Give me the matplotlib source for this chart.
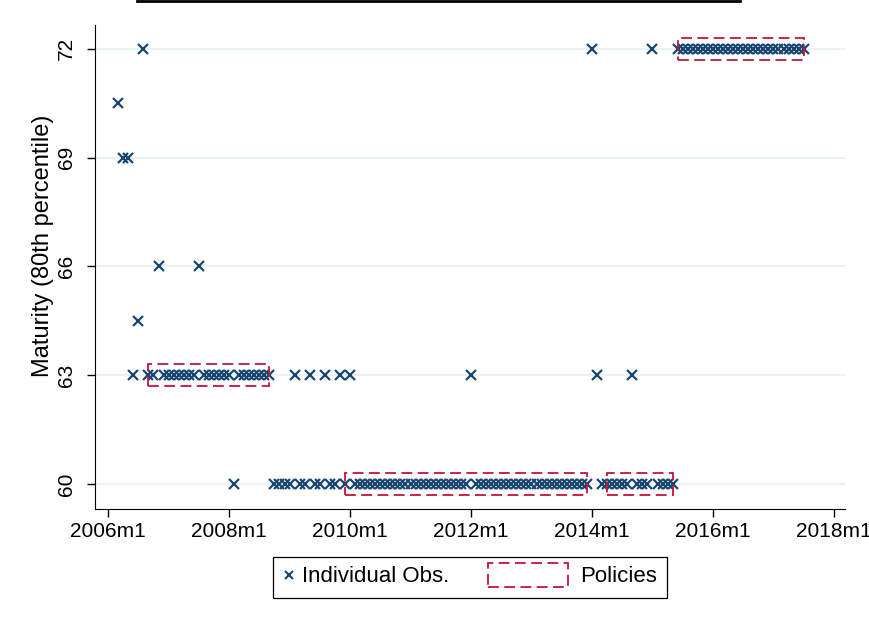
import matplotlib
matplotlib.use("Agg")
import matplotlib.pyplot as plt
from matplotlib.patches import Rectangle
from matplotlib.lines import Line2D

plt.rcParams['font.family'] = ['Liberation Sans', 'DejaVu Sans']

# monthly 80th percentile maturity, one list per year (m1..m12), None = no obs
m2006 = [None, None, 70.5, 69, 69, 63, 64.5, 72, 63, 63, 66, 63]
m2007 = [63, 63, 63, 63, 63, 63, 66, 63, 63, 63, 63, 63]
m2008 = [63, 60, 63, 63, 63, 63, 63, 63, 63, 60, 60, 60]
m2009 = [60, 63, 60, 60, 63, 60, 60, 63, 60, 60, 63, 60]
m2010 = [63, 60, 60, 60, 60, 60, 60, 60, 60, 60, 60, 60]
m2011 = [60, 60, 60, 60, 60, 60, 60, 60, 60, 60, 60, 60]
m2012 = [63, 60, 60, 60, 60, 60, 60, 60, 60, 60, 60, 60]
m2013 = [60, 60, 60, 60, 60, 60, 60, 60, 60, 60, 60, 60]
m2014 = [72, 63, 60, 60, 60, 60, 60, 60, 63, 60, 60, 60]
m2015 = [72, 60, 60, 60, 60, 72, 72, 72, 72, 72, 72, 72]
m2016 = [72, 72, 72, 72, 72, 72, 72, 72, 72, 72, 72, 72]
m2017 = [72, 72, 72, 72, 72, 72, 72, None, None, None, None, None]
years = [2006, 2007, 2008, 2009, 2010, 2011, 2012, 2013, 2014, 2015, 2016, 2017]
series = [m2006, m2007, m2008, m2009, m2010, m2011, m2012, m2013, m2014, m2015, m2016, m2017]

# policy periods (start, end as year, month) and maturity level
pol_start = [(2006, 9), (2009, 12), (2014, 4), (2015, 6)]
pol_end = [(2008, 9), (2013, 12), (2015, 5), (2017, 7)]
pol_level = [63, 60, 60, 72]

xtick_years = [2006, 2008, 2010, 2012, 2014, 2016, 2018]
yticks = [60, 63, 66, 69, 72]

navy = '#1a476f'
red = '#c8103a'


def mindex(y, m):
    return (y - 2006) * 12 + (m - 1)


xs, ys = [], []
for yr, vals in zip(years, series):
    for k, v in enumerate(vals):
        if v is not None:
            xs.append(mindex(yr, k + 1))
            ys.append(v)

fig = plt.figure(figsize=(8.7, 6.23), dpi=100)
ax = fig.add_axes([95 / 870, 1 - 509 / 623, 750 / 870, 484 / 623])

for y in yticks:
    ax.axhline(y, color='#eaf2f3', lw=1.5, zorder=0)

ax.plot(xs, ys, ls='none', marker='x', ms=6.5, mew=1.6, color=navy, zorder=3)

for s, e, lev in zip(pol_start, pol_end, pol_level):
    x0, x1 = mindex(*s), mindex(*e)
    ax.add_patch(Rectangle((x0, lev - 0.3), x1 - x0, 0.6, fill=False,
                           edgecolor=red, lw=1.3, linestyle=(0, (6, 3)), zorder=4))

ax.set_xlim(-2.6, 146.2)
ax.set_ylim(59.31, 72.66)
ax.set_xticks([mindex(y, 1) for y in xtick_years])
ax.set_xticklabels([f'{y}m1' for y in xtick_years])
ax.set_yticks(yticks)
ax.set_yticklabels([str(y) for y in yticks], rotation=90, va='center')
ax.tick_params(labelsize=15, length=6, width=1, direction='out')
ax.tick_params(axis='y', pad=8)
ax.spines['top'].set_visible(False)
ax.spines['right'].set_visible(False)
ax.set_ylabel('Maturity (80th percentile)', fontsize=17)
ax.yaxis.set_label_coords(-0.054, 0.543)


class WideBoxHandler:
    def legend_artist(self, legend, orig_handle, fontsize, handlebox):
        handlebox.width = 84 / 100 * 72
        r = Rectangle((0, -3), 80 / 100 * 72, handlebox.height + 6, fill=False,
                      edgecolor=red, lw=1.3, linestyle=(0, (6, 3)),
                      transform=handlebox.get_transform())
        handlebox.add_artist(r)
        return r


obs_handle = Line2D([], [], ls='none', marker='x', ms=5.5, mew=1.5, color=navy)
pol_handle = Rectangle((0, 0), 1, 1)
leg = fig.legend([obs_handle, pol_handle], ['Individual Obs.', 'Policies'],
                 loc='center', bbox_to_anchor=(470 / 870, 1 - 577 / 623), ncol=2,
                 fontsize=16, frameon=True, fancybox=False, edgecolor='black',
                 framealpha=1, handlelength=0.5, handletextpad=0.35,
                 columnspacing=1.73, borderpad=0.45,
                 handler_map={Rectangle: WideBoxHandler()})
leg.get_frame().set_linewidth(0.9)

fig.add_artist(Line2D([137 / 870, 740 / 870], [1 - 1 / 623, 1 - 1 / 623],
                      transform=fig.transFigure, color='black', lw=2))

fig.savefig('out.png', dpi=100)
